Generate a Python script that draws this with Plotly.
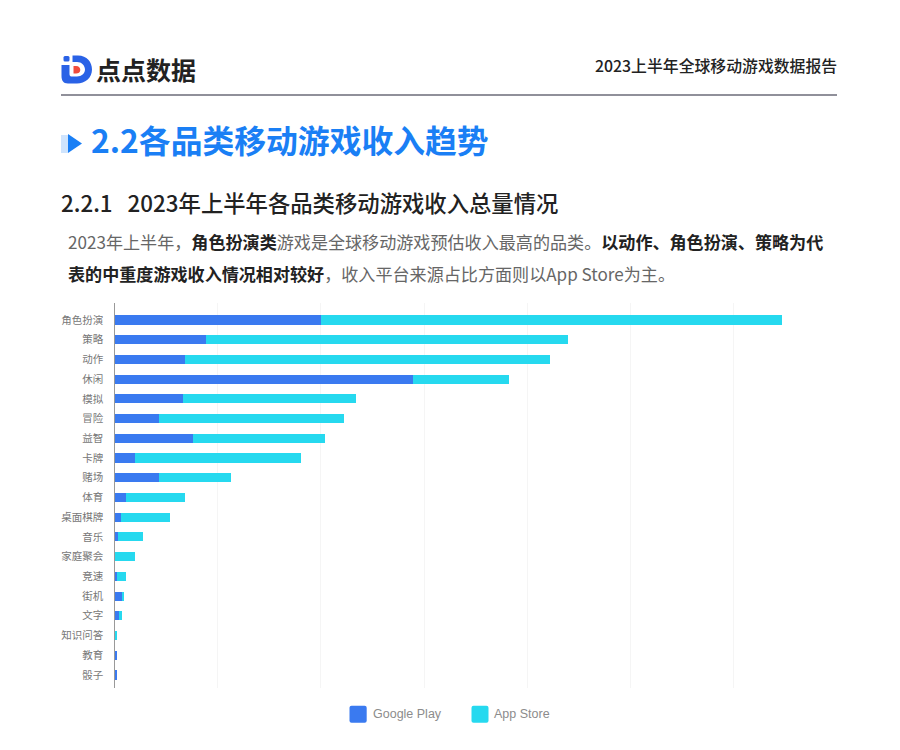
import plotly.graph_objects as go

categories = ["角色扮演", "策略", "动作", "休闲", "模拟", "冒险", "益智", "卡牌", "赌场", "体育",
              "桌面棋牌", "音乐", "家庭聚会", "竞速", "街机", "文字", "知识问答", "教育", "骰子"]
google_play = [20.0, 8.9, 6.8, 28.9, 6.6, 4.35, 7.6, 2.0, 4.35, 1.1,
               0.6, 0.3, 0.05, 0.2, 0.75, 0.4, 0.02, 0.15, 0.12]
app_store = [44.7, 35.0, 35.4, 9.3, 16.8, 17.85, 12.8, 16.05, 6.95, 5.7,
             4.8, 2.5, 1.95, 0.9, 0.15, 0.35, 0.15, 0, 0]
x_ticks = [0, 10, 20, 30, 40, 50, 60, 70]

W, H = 900, 750
FONT = "Noto Sans CJK SC"
MEDIUM = "Noto Sans CJK SC Medium"
GP_COLOR = "#3a7af0"
AS_COLOR = "#26d9ef"
COMMA = "\uff0c"


def px(x):
    return x / W


def py(y):
    return 1 - y / H


def label(x, y, text, size, color, anchor="left", family=FONT):
    return dict(x=px(x), y=py(y), xref="paper", yref="paper", text=text, showarrow=False,
                xanchor=anchor, yanchor="middle", align=anchor,
                font=dict(size=size, color=color, family=family))


def svg(*cmds):
    # each command is a letter followed by pixel points
    out = []
    for c in cmds:
        out.append(c[0] + " ".join(f"{px(a):.5f},{py(b):.5f}" for a, b in c[1:]))
    return " ".join(out) + " Z"


def path(d, color):
    return dict(type="path", xref="paper", yref="paper", path=d, fillcolor=color, line_width=0, layer="above")


def swatch(x0, y0, x1, y1, r=2):
    return svg(("M", (x0 + r, y0)), ("L", (x1 - r, y0)), ("Q", (x1, y0), (x1, y0 + r)),
               ("L", (x1, y1 - r)), ("Q", (x1, y1), (x1 - r, y1)), ("L", (x0 + r, y1)),
               ("Q", (x0, y1), (x0, y1 - r)), ("L", (x0, y0 + r)), ("Q", (x0, y0), (x0 + r, y0)))


fig = go.Figure()
fig.add_bar(y=categories, x=google_play, orientation="h", name="Google Play",
            marker=dict(color=GP_COLOR, line_width=0))
fig.add_bar(y=categories, x=app_store, orientation="h", name="App Store",
            marker=dict(color=AS_COLOR, line_width=0))

annotations = [
    label(94, 69, "<b>点点数据</b>", 25, "#222222"),
    label(839, 65, "2023上半年全球移动游戏数据报告", 15.85, "#222222", anchor="right", family=MEDIUM),
    label(89, 139, "<b>2.2各品类移动游戏收入趋势</b>", 31.8, "#1a7ff5"),
    label(59, 202, "2.2.1   2023年上半年各品类移动游戏收入总量情况", 22.35, "#222222", family=MEDIUM),
    label(66, 241, '2023年上半年' + COMMA + '<span style="color:#222222"><b>角色扮演类</b></span>游戏是全球移动游戏预估收入最高的品类。'
                   '<span style="color:#222222"><b>以动作、角色扮演、策略为代</b></span>', 17.08, "#666666"),
    label(66, 274, '<span style="color:#222222"><b>表的中重度游戏收入情况相对较好</b></span>' + COMMA + '收入平台来源占比方面则以App Store为主。',
          17.08, "#666666"),
    label(371, 714, "Google Play", 12.5, "#8c8c8c", family="Liberation Sans"),
    label(492, 714, "App Store", 12.5, "#8c8c8c", family="Liberation Sans"),
]

shapes = [
    dict(type="line", xref="paper", yref="paper", x0=px(61), x1=px(837), y0=py(95), y1=py(95),
         line=dict(color="#6b6b78", width=1.5)),
    # legend swatches
    path(swatch(349.5, 705.8, 366.7, 722.8), GP_COLOR),
    path(swatch(471.5, 705.8, 488.5, 722.8), AS_COLOR),
    # title arrow
    path(svg(("M", (61, 135)), ("L", (68, 135)), ("L", (68, 153)), ("L", (61, 153))), "#cfe4fd"),
    path(svg(("M", (68, 134)), ("L", (82, 143.5)), ("L", (68, 153))), "#1a7ff5"),
    # logo mark
    path(swatch(63.5, 56, 69.5, 61.5, 1.5), "#2a62e6"),
    path(svg(("M", (72.5, 55.5)), ("L", (78, 55.5)), ("C", (87, 55.5), (92, 62), (92, 69.5)),
             ("C", (92, 78), (85, 83.5), (77, 83.5)), ("L", (68, 83.5)), ("C", (63, 83.5), (61.5, 80), (61.5, 76)),
             ("L", (61.5, 65)), ("L", (69.5, 65)), ("L", (69.5, 74)), ("C", (69.5, 76), (70.5, 76.5), (72, 76.5)),
             ("L", (77, 76.5)), ("C", (81.5, 76.5), (85, 73.5), (85, 69.5)), ("C", (85, 65.5), (81.5, 62), (77, 62)),
             ("L", (72.5, 62))), "#2a62e6"),
    path(svg(("M", (73.5, 66)), ("L", (76, 66)), ("C", (79, 66), (80.3, 68), (80.3, 70)),
             ("C", (80.3, 72.5), (78, 73.7), (75.5, 73.5)), ("L", (73.5, 73.5))), "#f24c3d"),
]

fig.update_layout(
    width=W, height=H, margin=dict(l=0, r=0, t=0, b=0),
    paper_bgcolor="white", plot_bgcolor="white",
    barmode="stack", bargap=0.54, showlegend=False,
    font=dict(family=FONT),
    annotations=annotations, shapes=shapes,
    xaxis=dict(domain=[px(114.5), px(837)], range=[0, 70], tickvals=x_ticks, showticklabels=False,
               showgrid=True, gridcolor="#f5f5f5", gridwidth=1, zeroline=False, showline=False),
    yaxis=dict(domain=[py(688), py(303)], range=[18.66, -0.86], type="category",
               categoryorder="array", categoryarray=categories,
               showline=True, linecolor="#999999", linewidth=1.2, showgrid=False, zeroline=False,
               ticks="", ticklabelstandoff=8, tickfont=dict(size=10.5, color="#777777", family=FONT)),
)

fig.write_html("out.html", config={"displayModeBar": False}, post_script="document.body.style.margin = '0';")
